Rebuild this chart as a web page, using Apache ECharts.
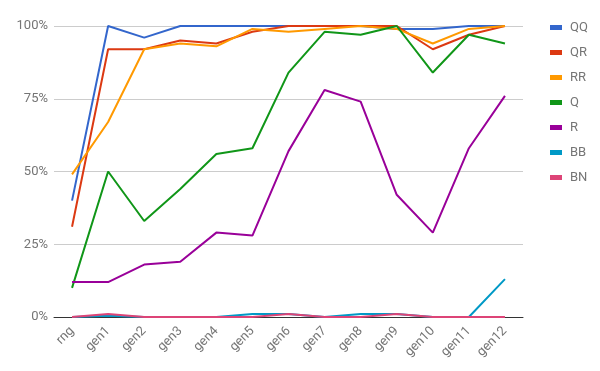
<!DOCTYPE html>
<html>
<head>
<meta charset="utf-8">
<script src="https://cdn.jsdelivr.net/npm/echarts@6/dist/echarts.min.js"></script>
<style>
  html, body { margin: 0; padding: 0; background: #fff; }
  #main { width: 600px; height: 371px; }
</style>
</head>
<body>
<div id="main"></div>
<script>
// categories and series values (percent)
var gens = ['rng', 'gen1', 'gen2', 'gen3', 'gen4', 'gen5', 'gen6', 'gen7', 'gen8', 'gen9', 'gen10', 'gen11', 'gen12'];
var qq = [40, 100, 96, 100, 100, 100, 100, 100, 100, 99, 99, 100, 100];
var qr = [31, 92, 92, 95, 94, 98, 100, 100, 100, 100, 92, 97, 100];
var rr = [49, 67, 92, 94, 93, 99, 98, 99, 100, 99, 94, 99, 100];
var q = [10, 50, 33, 44, 56, 58, 84, 98, 97, 100, 84, 97, 94];
var r = [12, 12, 18, 19, 29, 28, 57, 78, 74, 42, 29, 58, 76];
var bb = [0, 0.4, 0, 0, 0, 1, 1, 0, 1, 1, 0, 0, 13];
var bn = [0, 1, 0, 0, 0, 0, 1, 0, 0, 1, 0, 0, 0];
var yTicks = [0, 25, 50, 75, 100];

var names = ['QQ', 'QR', 'RR', 'Q', 'R', 'BB', 'BN'];
var values = [qq, qr, rr, q, r, bb, bn];
var colors = ['#3366cc', '#dc3912', '#ff9900', '#109618', '#990099', '#0099c6', '#dd4477'];

var chart = echarts.init(document.getElementById('main'));

var series = [];
for (var i = 0; i < names.length; i++) {
    series.push({
        name: names[i],
        type: 'line',
        data: values[i],
        symbol: 'none',
        lineStyle: { width: 2, color: colors[i] },
        itemStyle: { color: colors[i] },
        z: 2 + i
    });
}

chart.setOption({
    animation: false,
    textStyle: { fontFamily: 'Roboto' },
    grid: { left: 54, right: 77, top: 26, bottom: 54 },
    legend: {
        orient: 'vertical',
        left: 545,
        top: 16,
        itemGap: 12,
        itemWidth: 12,
        itemHeight: 5,
        icon: 'rect',
        textStyle: { color: '#757575', fontSize: 13, fontFamily: 'Roboto', padding: [0, 0, 0, 3] },
        data: names
    },
    xAxis: {
        type: 'category',
        data: gens,
        boundaryGap: true,
        axisLine: { lineStyle: { color: '#333', width: 1 } },
        axisTick: { show: false },
        axisLabel: { rotate: 45, color: '#757575', fontSize: 13, margin: 12 }
    },
    yAxis: {
        type: 'value',
        min: yTicks[0],
        max: yTicks[yTicks.length - 1],
        interval: 25,
        axisLine: { show: false },
        axisTick: { show: false },
        splitLine: { lineStyle: { color: '#cccccc' } },
        axisLabel: { color: '#757575', fontSize: 13, margin: 6, formatter: '{value}%' }
    },
    series: series
});
</script>
</body>
</html>
